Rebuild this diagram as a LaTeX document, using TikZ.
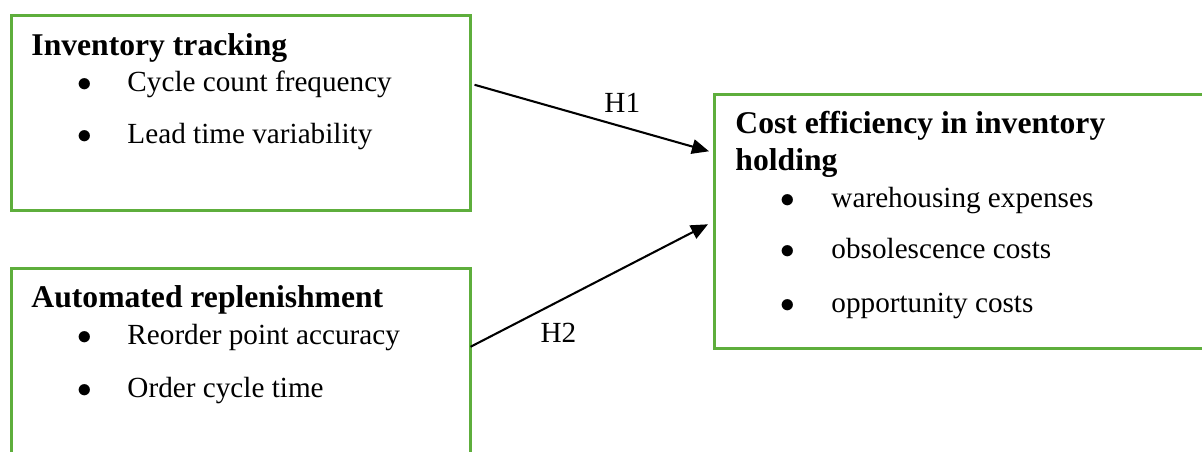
\documentclass[tikz,border=0pt]{standalone}
\usepackage{fontspec}
\setmainfont{Liberation Serif}
\usetikzlibrary{arrows.meta, positioning, calc}

\definecolor{boxgreen}{HTML}{5EAE3C}

\begin{document}
\begin{tikzpicture}[
    % Global options: one unit is one pixel of the layout
    x=0.411pt, y=0.411pt,
    font=\fontsize{12}{14}\selectfont,
    box/.style={draw=boxgreen, line width=1.05pt, inner sep=0pt},
    title/.style={anchor=base west, inner sep=0pt,
      font=\fontsize{13}{15}\selectfont\bfseries},
    item/.style={anchor=base west, inner sep=0pt},
    dot/.style={anchor=base, inner sep=0pt},
    hyp/.style={line width=0.85pt, -{Triangle[length=7pt, width=6pt]}},
  ]
    \useasboundingbox (0,0) rectangle (1202,451);

    % --- Inventory tracking ---
    \node[box, minimum width=459*0.411pt, minimum height=195*0.411pt,
      anchor=north west] (track) at (10,437) {};
    \node[title] (track-title) at (31,396) {Inventory tracking};
    \node[dot] (track-d1) at (85,360) {$\bullet$};
    \node[item] (track-a) at (127,360) {Cycle count frequency};
    \node[dot] (track-d2) at (85,308) {$\bullet$};
    \node[item] (track-b) at (127,308) {Lead time variability};

    % --- Automated replenishment (runs past the bottom) ---
    \node[box, minimum width=459*0.411pt, minimum height=199*0.411pt,
      anchor=north west] (repl) at (10,184) {};
    \node[title] (repl-title) at (31,144) {Automated replenishment};
    \node[dot] (repl-d1) at (85,107) {$\bullet$};
    \node[item] (repl-a) at (127,107) {Reorder point accuracy};
    \node[dot] (repl-d2) at (85,54) {$\bullet$};
    \node[item] (repl-b) at (127,54) {Order cycle time};

    % --- Cost efficiency (runs past the right edge) ---
    \node[box, minimum width=502*0.411pt, minimum height=254*0.411pt,
      anchor=north west] (cost) at (713,358) {};
    \node[title] (cost-title) at (735,318) {Cost efficiency in inventory};
    \node[title] (cost-title2) at (735,281) {holding};
    \node[dot] (cost-d1) at (788,244) {$\bullet$};
    \node[item] (cost-a) at (831,244) {warehousing expenses};
    \node[dot] (cost-d2) at (788,193) {$\bullet$};
    \node[item] (cost-b) at (831,193) {obsolescence costs};
    \node[dot] (cost-d3) at (788,139) {$\bullet$};
    \node[item] (cost-c) at (831,139) {opportunity costs};

    % --- Hypotheses ---
    \draw[hyp] ($(track.east)+(3,28)$) -- ($(cost.west)+(-4,70)$)
      node[pos=0.63, above=13*0.411pt, inner sep=0pt] (h1) {H1};
    \draw[hyp] ($(repl.east)+(-1,21)$) -- ($(cost.west)+(-5,-3)$)
      node[pos=0.37, below=21*0.411pt, inner sep=0pt] (h2) {H2};
  \end{tikzpicture}
\end{document}
